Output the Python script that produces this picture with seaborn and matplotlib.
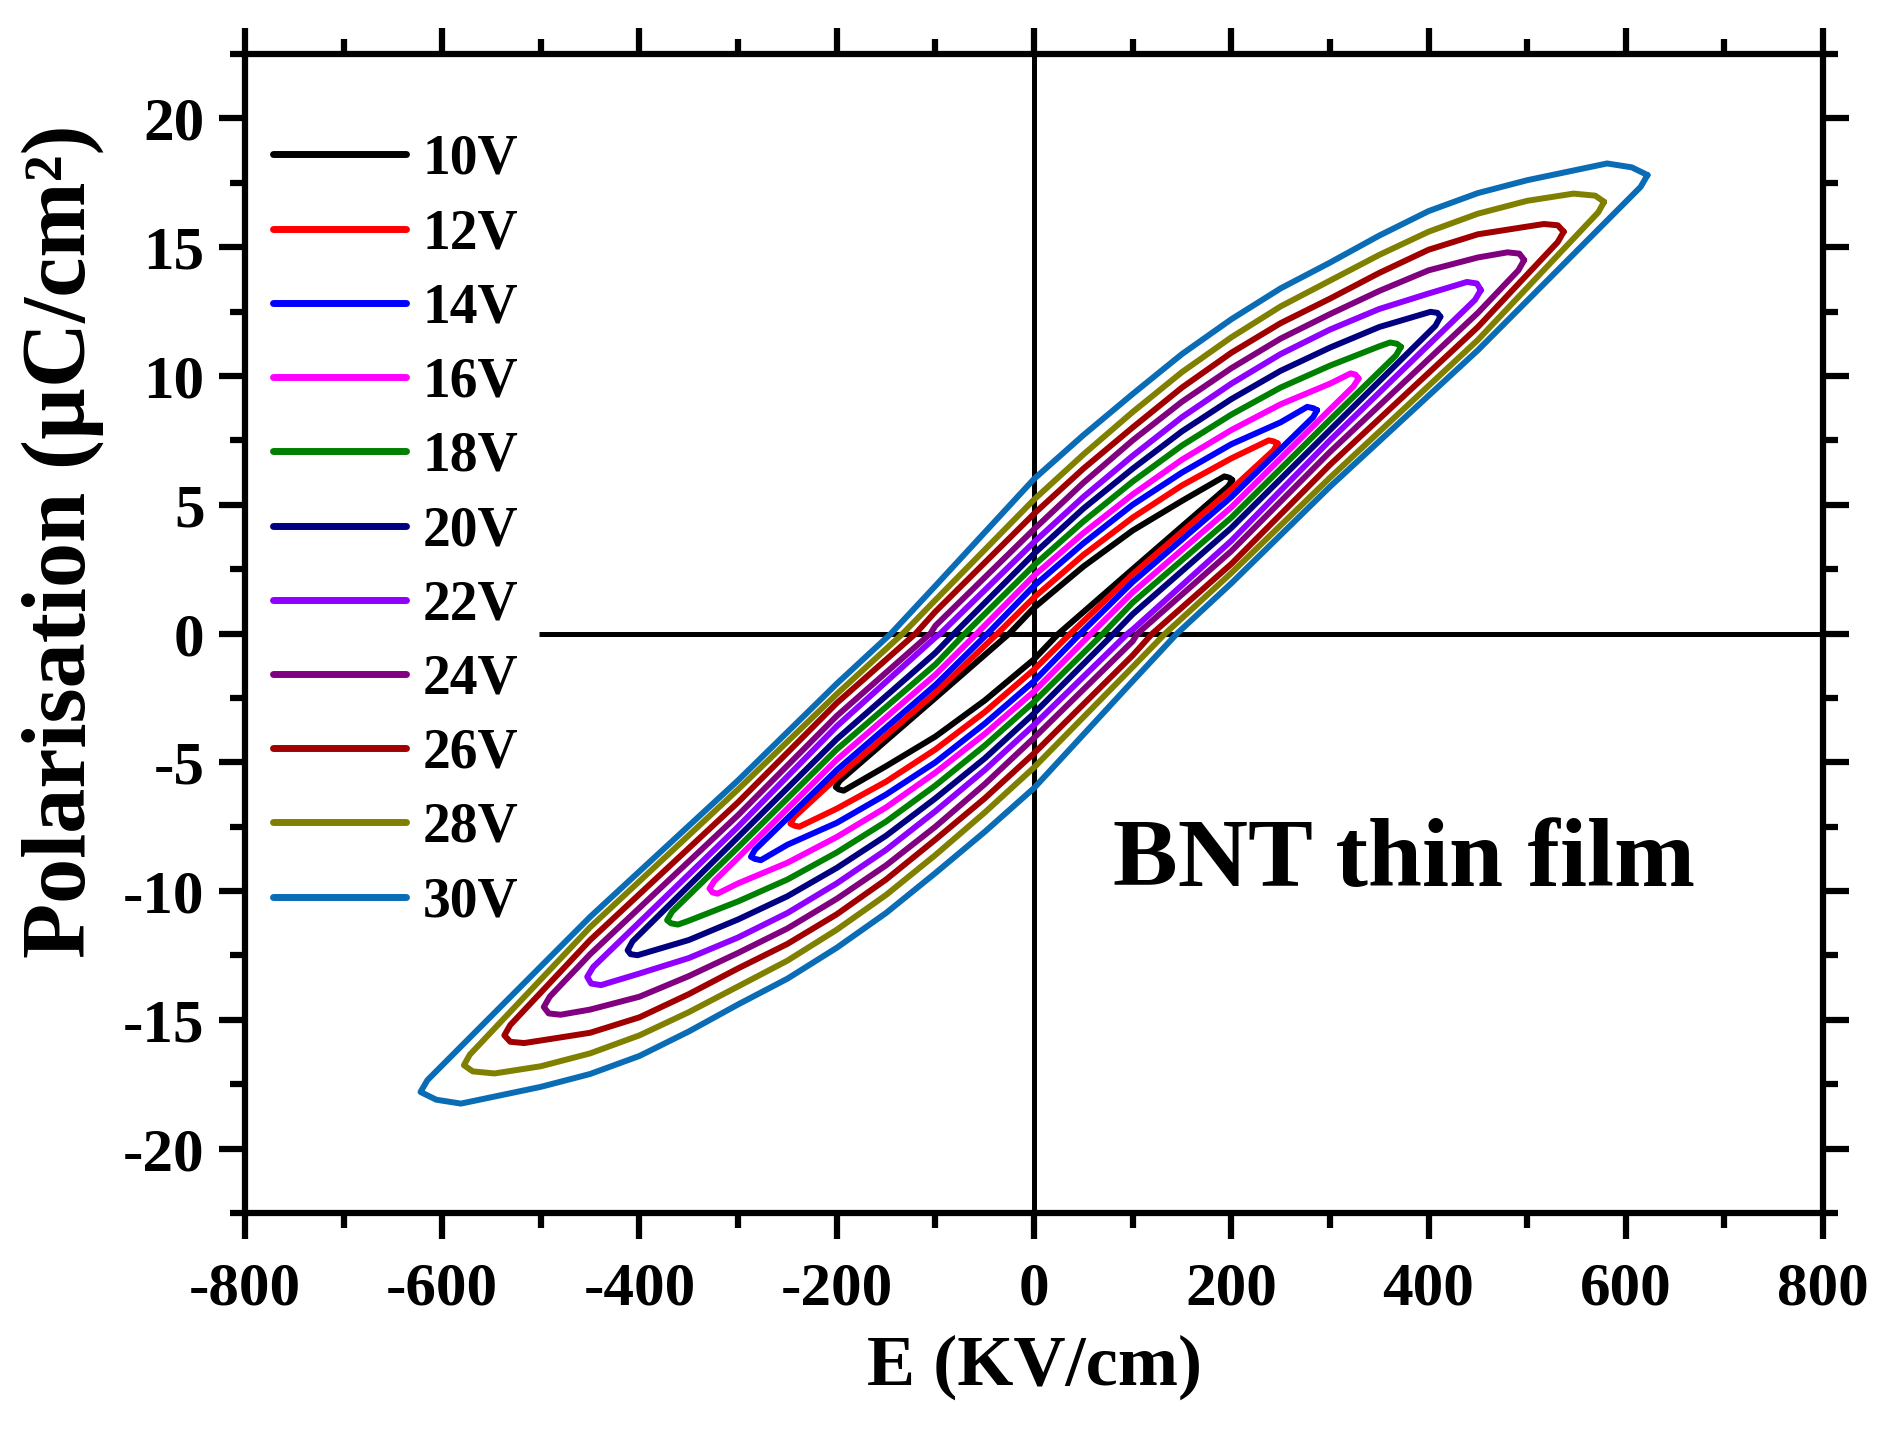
import numpy as np
import pandas as pd
import matplotlib
matplotlib.use('Agg')
import matplotlib.pyplot as plt
from matplotlib.ticker import MultipleLocator
import seaborn as sns

nan = np.nan

#----------------------------------------------------------------------------------------------------------------------------------------
# Datos (solo la mitad E >= 0; el lazo es simétrico respecto al origen)
#----------------------------------------------------------------------------------------------------------------------------------------

voltages = ['10V', '12V', '14V', '16V', '18V', '20V', '22V', '24V', '26V', '28V', '30V']
colors = ['#000000', '#ff0000', '#0000ff', '#ff00ff', '#008000', '#000080',
          '#8f00ff', '#800080', '#a00000', '#808000', '#0a6cb5']

# punta del lazo (extremo derecho)
e_tip = [201, 247, 287, 329, 372, 412, 453, 497, 537, 578, 622]
p_tip = [5.96, 7.38, 8.67, 9.90, 11.13, 12.30, 13.33, 14.50, 15.60, 16.76, 17.80]
# primer punto de la rama inferior justo debajo de la punta
e_tl = [197, 243, 283, 324, 367, 407, 447, 491, 531, 572, 615]
p_tl = [5.72, 7.12, 8.40, 9.60, 10.80, 11.95, 12.95, 14.10, 15.20, 16.35, 17.34]
# hombro entre el máximo y la punta
e_sh = [198, 243, 283, 326, 368, 409, 449, 492, 531, 569, 606]
p_sh = [6.05, 7.46, 8.75, 10.05, 11.25, 12.45, 13.59, 14.75, 15.85, 17.00, 18.10]
# máximo de la rama superior
e_top = [193, 238, 277, 321, 361, 402, 439, 480, 517, 547, 581]
p_top = [6.10, 7.50, 8.80, 10.10, 11.30, 12.49, 13.65, 14.80, 15.90, 17.08, 18.25]
# polarización remanente y campo coercitivo
p_rem = [1.0, 1.4, 1.85, 2.25, 2.65, 3.1, 3.55, 4.05, 4.65, 5.2, 6.0]
e_coer = [25, 37, 47, 58, 70, 81, 95, 105, 120, 133, 145]

# rama superior (E creciente) en campos fijos
grid_up = [50, 100, 150, 200, 250, 300, 350, 400, 450, 500]
p_up_50 = [2.6, 3.05, 3.5, 3.9, 4.35, 4.85, 5.3, 5.85, 6.4, 6.95, 7.7]
p_up_100 = [4.0, 4.5, 5.0, 5.4, 5.9, 6.4, 6.9, 7.5, 8.0, 8.6, 9.3]
p_up_150 = [5.15, 5.75, 6.25, 6.75, 7.3, 7.85, 8.4, 9.0, 9.55, 10.15, 10.85]
p_up_200 = [nan, 6.8, 7.35, 7.9, 8.5, 9.1, 9.7, 10.3, 10.9, 11.5, 12.2]
p_up_250 = [nan, nan, 8.2, 8.9, 9.55, 10.2, 10.85, 11.45, 12.05, 12.7, 13.4]
p_up_300 = [nan, nan, nan, 9.7, 10.4, 11.1, 11.8, 12.4, 13.0, 13.7, 14.4]
p_up_350 = [nan, nan, nan, nan, 11.15, 11.9, 12.6, 13.3, 14.0, 14.7, 15.45]
p_up_400 = [nan, nan, nan, nan, nan, nan, 13.2, 14.1, 14.9, 15.6, 16.4]
p_up_450 = [nan, nan, nan, nan, nan, nan, nan, 14.6, 15.5, 16.3, 17.1]
p_up_500 = [nan, nan, nan, nan, nan, nan, nan, nan, 15.8, 16.8, 17.6]

# rama inferior en campos fijos
grid_lo = [100, 200, 300, 450]
p_lo_100 = [2.5, 2.3, 2.0, 1.6, 1.2, 0.75, 0.15, -0.3, -0.85, -1.3, -1.85]
p_lo_200 = [nan, 5.6, 5.3, 4.9, 4.5, 4.1, 3.6, 3.2, 2.7, 2.35, 1.95]
p_lo_300 = [nan, nan, nan, 8.7, 8.3, 7.9, 7.5, 7.05, 6.55, 6.05, 5.7]
p_lo_450 = [nan, nan, nan, nan, nan, nan, nan, 12.45, 11.9, 11.4, 11.0]

zero_line_start = -502

up_cols = [p_up_50, p_up_100, p_up_150, p_up_200, p_up_250, p_up_300, p_up_350,
           p_up_400, p_up_450, p_up_500]
lo_cols = [p_lo_100, p_lo_200, p_lo_300, p_lo_450]


def build_loop(i):
    """
    Arma el lazo cerrado P-E de la curva i a partir de la mitad E >= 0.
    La rama superior en E < 0 es la inferior reflejada en el origen y viceversa.
    """
    ue, up = [0.0], [p_rem[i]]
    for g, col in zip(grid_up, up_cols):
        if not np.isnan(col[i]):
            ue.append(g)
            up.append(col[i])
    ue += [e_top[i], e_sh[i], e_tip[i]]
    up += [p_top[i], p_sh[i], p_tip[i]]

    le, lp = [0.0, e_coer[i]], [-p_rem[i], 0.0]
    for g, col in zip(grid_lo, lo_cols):
        if not np.isnan(col[i]):
            le.append(g)
            lp.append(col[i])
    le += [e_tl[i]]
    lp += [p_tl[i]]

    ou, ol = np.argsort(ue, kind='stable'), np.argsort(le, kind='stable')
    ue, up = np.array(ue, float)[ou], np.array(up, float)[ou]
    le, lp = np.array(le, float)[ol], np.array(lp, float)[ol]
    # la punta cierra la rama inferior
    le, lp = np.append(le, e_tip[i]), np.append(lp, p_tip[i])

    ue_r, up_r = ue[::-1], up[::-1]
    E = np.concatenate([ue_r, -le[1:], -ue_r[1:], le[1:]])
    P = np.concatenate([up_r, -lp[1:], -up_r[1:], lp[1:]])
    return E, P


#----------------------------------------------------------------------------------------------------------------------------------------
# Gráfico
#----------------------------------------------------------------------------------------------------------------------------------------

sns.set_style('ticks')
plt.rcParams['font.family'] = ['Liberation Serif', 'DejaVu Serif']
plt.rcParams['font.weight'] = 'bold'
plt.rcParams['axes.unicode_minus'] = False
plt.rcParams['text.color'] = 'black'
plt.rcParams['axes.labelcolor'] = 'black'
plt.rcParams['xtick.color'] = 'black'
plt.rcParams['ytick.color'] = 'black'

fig = plt.figure(figsize=(18.9, 14.4), dpi=100)
ax = fig.add_axes([0.1296, 0.1576, 0.8350, 0.8049])

ax.axvline(0, color='black', lw=3.6, zorder=1)
ax.hlines(0, zero_line_start, 800, color='black', lw=3.6, zorder=1)

for i, v in enumerate(voltages):
    E, P = build_loop(i)
    df = pd.DataFrame({'E': E, 'P': P})
    sns.lineplot(data=df, x='E', y='P', sort=False, estimator=None, color=colors[i],
                 lw=4.3, label=v, ax=ax, solid_joinstyle='round', solid_capstyle='round', zorder=2)

ax.set_xlim(-800, 800)
ax.set_ylim(-22.5, 22.5)
ax.xaxis.set_major_locator(MultipleLocator(200))
ax.xaxis.set_minor_locator(MultipleLocator(100))
ax.yaxis.set_major_locator(MultipleLocator(5))
ax.yaxis.set_minor_locator(MultipleLocator(2.5))
ax.tick_params(which='both', direction='out', top=True, right=True, width=4.5,
               labelsize=44, color='black', labelcolor='black')
ax.tick_params(axis='x', pad=16)
ax.tick_params(axis='y', pad=10)
ax.tick_params(which='major', length=19)
ax.tick_params(which='minor', length=10.5)
for s in ax.spines.values():
    s.set_linewidth(4.5)
    s.set_color('black')

ax.set_xlabel('E (KV/cm)', fontsize=52, fontweight='bold')
ax.set_ylabel('Polarisation (µC/cm²)', fontsize=65, fontweight='bold')
ax.xaxis.set_label_coords(0.5, -0.105)
ax.yaxis.set_label_coords(-0.089, 0.58)

ax.text(80, -9.8, 'BNT thin film', fontsize=70, fontweight='bold', va='baseline')

leg = ax.legend(loc='upper left', bbox_to_anchor=(0.0, 0.955), frameon=False, fontsize=40,
                handlelength=2.4, handletextpad=0.3, labelspacing=0.4, borderpad=0.2,
                borderaxespad=0.3)
for line in leg.get_lines():
    line.set_linewidth(5)

fig.savefig('out.png', dpi=100)
